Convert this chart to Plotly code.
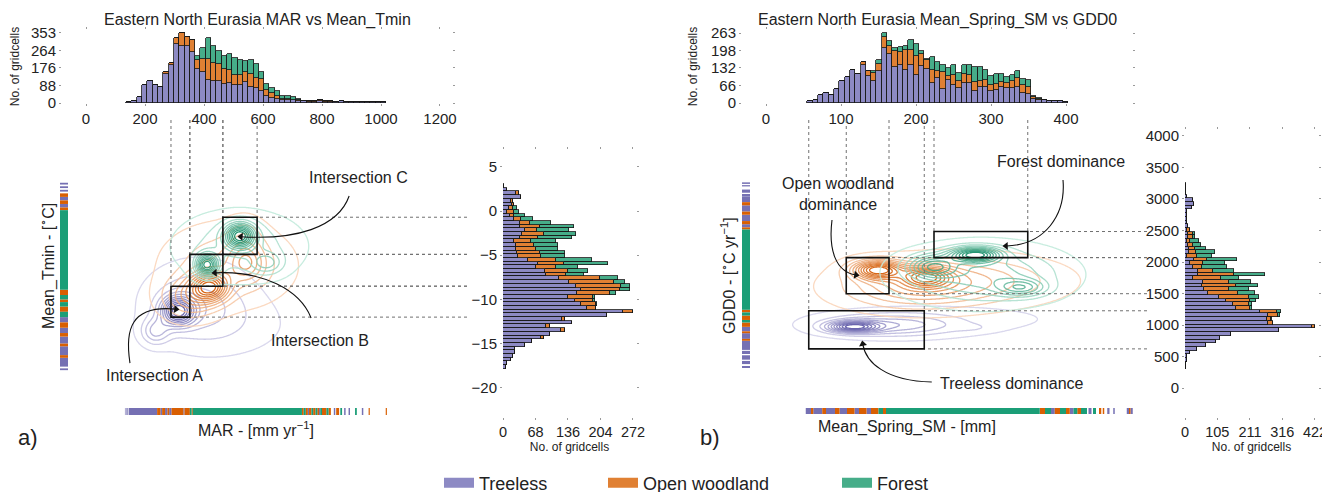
import numpy as np
import plotly.graph_objects as go

W, H = 1330, 492
OFF = 8  # the page body adds an 8 px margin around the figure
FONT = "Liberation Sans, Arial, Helvetica, sans-serif"
INK = "#222222"

CLASSES = ["Treeless", "Open woodland", "Forest"]
BAR_COLORS = ["#8d8ac4", "#e08033", "#46ad89"]
RUG_COLORS = ["#7570b3", "#d95f02", "#1b9e77"]
KDE_LIGHT = ["#d6d4ec", "#fbd6bb", "#c2ebdc"]
KDE_DARK = ["#5a54a5", "#d35800", "#0f8a64"]

# ---------------- Panel a: MAR marginal histogram (bins of 18 mm from 136) ----------------
mar_bin_start = 136
mar_bin_width = 18
mar_treeless = [5, 12, 29, 92, 109, 89, 82, 143, 193, 294, 286, 286, 257, 170, 156, 114, 109, 109, 96, 101,
                89, 89, 106, 79, 76, 62, 34, 25, 22, 17, 17, 13, 12, 10, 7, 7, 12, 7, 7, 5,
                11, 5, 5, 5, 5, 5, 5, 4, 3]
mar_open = [0, 0, 0, 0, 0, 0, 0, 12, 10, 34, 64, 45, 57, 45, 64, 106, 94, 89, 72, 65,
            49, 52, 49, 67, 50, 56, 33, 25, 12, 5, 5, 4, 3, 1, 1, 1, 1, 1, 1, 0,
            1, 0, 0, 0, 0, 0, 0, 1, 0]
mar_forest = [0, 0, 0, 0, 0, 0, 0, 0, 0, 0, 0, 0, 0, 22, 54, 104, 81, 63, 67, 78,
              89, 74, 58, 71, 72, 37, 29, 26, 25, 15, 15, 12, 5, 1, 0, 0, 0, 0, 0, 0,
              0, 0, 0, 0, 0, 0, 0, 0, 0]
mar_ticks = [0, 200, 400, 600, 800, 1000, 1200]
mar_count_ticks = [0, 88, 176, 264, 353]

# ---------------- Panel a: Mean_Tmin marginal histogram (warmest bin first) ----------------
tmin_bin_top = 3.05
tmin_bin_width = 0.418
tmin_treeless = [3, 8, 28, 37, 17, 19, 12, 8, 14, 24, 35, 35, 45, 40, 35, 23, 28, 28, 30, 31,
                 52, 73, 68, 87, 89, 118, 139, 153, 164, 155, 136, 150, 164, 176, 251, 218, 124, 144, 91, 121,
                 98, 80, 61, 45, 26, 26, 21, 17, 9, 7]
tmin_open = [0, 0, 5, 0, 3, 3, 9, 16, 10, 13, 21, 42, 27, 45, 38, 35, 37, 40, 47, 48,
             59, 55, 42, 49, 43, 84, 93, 94, 80, 68, 52, 38, 31, 19, 22, 0, 6, 0, 7, 8,
             0, 5, 0, 0, 0, 0, 0, 0, 0, 0]
tmin_forest = [0, 0, 0, 0, 0, 0, 8, 9, 21, 26, 44, 71, 67, 67, 71, 52, 50, 48, 52, 50,
               75, 92, 47, 42, 37, 38, 24, 19, 21, 13, 5, 4, 2, 0, 0, 0, 0, 0, 0, 0,
               0, 0, 0, 0, 0, 0, 0, 0, 0, 0]
tmin_ticks = [5, 0, -5, -10, -15, -20]
tmin_count_ticks = [0, 68, 136, 204, 272]

# ---------------- Panel b: Mean_Spring_SM marginal histogram ----------------
sm_bin_start = 55
sm_bin_width = 7.1
sm_treeless = [6, 13, 29, 38, 31, 54, 81, 96, 125, 110, 144, 100, 81, 119, 207, 184, 134, 144, 125, 141,
               106, 138, 128, 75, 94, 53, 88, 69, 56, 75, 75, 46, 59, 59, 44, 50, 59, 56, 56, 59,
               38, 35, 16, 13, 11, 6, 6, 9, 5]
sm_open = [0, 0, 0, 0, 0, 0, 0, 0, 0, 0, 9, 21, 32, 29, 41, 29, 60, 46, 75, 59,
           69, 46, 32, 50, 25, 62, 12, 37, 28, 34, 31, 33, 22, 29, 25, 21, 20, 19, 25, 35,
           28, 24, 6, 3, 1, 0, 0, 0, 0]
sm_forest = [0, 0, 0, 0, 0, 0, 0, 0, 0, 0, 0, 0, 6, 15, 14, 21, 13, 19, 15, 38,
             47, 10, 7, 47, 34, 29, 30, 38, 29, 35, 38, 55, 53, 36, 31, 38, 30, 21, 25, 27,
             25, 29, 6, 3, 1, 0, 0, 0, 0]
sm_ticks = [0, 100, 200, 300, 400]
sm_count_ticks = [0, 66, 132, 198, 263]

# ---------------- Panel b: GDD0 marginal histogram (warmest bin first) ----------------
gdd_bin_top = 3248
gdd_bin_width = 59
gdd_treeless = [2, 2, 3, 5, 25, 29, 23, 8, 5, 5, 8, 11, 8, 11, 11, 5, 11, 14, 13, 8,
                29, 16, 25, 43, 43, 27, 57, 54, 62, 76, 111, 133, 157, 166, 243, 270, 267, 270, 411, 306,
                149, 114, 101, 68, 40, 16, 8, 5, 3, 2]
gdd_open = [0, 0, 0, 0, 0, 0, 0, 0, 0, 0, 0, 0, 8, 14, 16, 11, 14, 18, 23, 30,
            41, 43, 29, 49, 117, 90, 87, 112, 82, 97, 98, 78, 52, 45, 55, 33, 11, 15, 11, 0,
            0, 0, 0, 0, 0, 0, 0, 0, 0, 0]
gdd_forest = [0, 0, 0, 0, 0, 0, 0, 0, 0, 0, 0, 0, 0, 7, 5, 31, 26, 36, 61, 49,
              98, 71, 81, 68, 100, 59, 69, 72, 64, 54, 32, 19, 7, 8, 13, 5, 3, 0, 0, 0,
              0, 0, 0, 0, 0, 0, 0, 0, 0, 0]
gdd_ticks = [0, 500, 1000, 1500, 2000, 2500, 3000, 3500, 4000]
gdd_count_ticks = [0, 105, 211, 316, 422]

# ---------------- Rug segments (start, end) per class ----------------
rug_mar = [
    [(132, 134), (136, 138), (140, 143), (145, 241), (252, 258), (268, 276), (282, 290), (330, 334),
     (752, 756), (790, 794), (840, 845), (875, 880), (890, 895), (935, 940)],
    [(241, 252), (258, 268), (276, 282), (290, 330), (334, 352), (358, 362), (732, 738), (745, 752),
     (756, 764), (770, 778), (784, 790), (800, 815), (822, 830), (848, 858), (958, 962), (1016, 1020)],
    [(352, 358), (362, 732), (738, 745), (764, 770), (778, 784), (794, 800), (815, 822), (862, 868),
     (912, 918)],
]
rug_tmin = [
    [(3.0, 3.2), (2.6, 2.8), (2.2, 2.4), (1.2, 1.6), (0.4, 0.8), (-12.6, -12.0), (-13.8, -13.2),
     (-15.0, -14.2), (-16.3, -15.3), (-17.6, -16.6), (-18.0, -17.8)],
    [(1.6, 2.0), (0.8, 1.2), (0.1, 0.4), (-9.5, -8.9), (-10.3, -10.0), (-11.4, -10.8), (-13.2, -12.6),
     (-14.2, -13.8), (-15.3, -15.0), (-16.6, -16.3)],
    [(-8.9, 0.1), (-10.0, -9.5), (-10.8, -10.3), (-12.0, -11.4)],
]
rug_sm = [
    [(53, 60), (63, 75), (80, 92), (98, 108), (118, 124), (134, 140), (380, 385), (405, 410), (430, 434),
     (455, 458), (463, 465), (481, 484), (486, 489)],
    [(60, 63), (75, 80), (92, 98), (108, 118), (124, 134), (140, 150), (156, 160), (365, 372), (385, 392),
     (400, 405), (415, 420), (444, 447), (449, 451), (484, 486)],
    [(150, 156), (160, 365), (372, 380), (392, 400), (410, 415), (420, 428), (436, 440)],
]
rug_gdd = [
    [(3240, 3264), (3200, 3220), (3100, 3150), (3041, 3080), (2950, 3041), (2800, 2900), (2650, 2750),
     (2550, 2600), (900, 971), (780, 870), (605, 750), (540, 590), (450, 520), (380, 430), (318, 350)],
    [(2900, 2950), (2750, 2800), (2600, 2650), (2516, 2550), (1200, 1242), (1080, 1150), (971, 1040),
     (870, 900), (750, 780)],
    [(1242, 2516), (1150, 1200), (1040, 1080)],
]

# ---------------- KDE modes: (x, y, spread_x, spread_y, weight) ----------------
kde_a = [
    [(312, -11.3, 38, 1.1, 1.0), (235, -13.6, 32, 1.0, 0.35), (380, -10.5, 110, 2.8, 0.30),
     (295, 1.5, 28, 0.7, 0.05), (500, -13.0, 140, 2.4, 0.08)],
    [(420, -8.6, 42, 1.1, 1.0), (350, -9.8, 60, 1.5, 0.45), (545, -5.9, 40, 1.4, 0.40),
     (480, -6.2, 130, 2.8, 0.30), (540, -3.0, 40, 1.5, 0.15)],
    [(522, -2.8, 34, 0.95, 1.0), (410, -6.1, 26, 0.85, 0.95), (613, -5.9, 35, 0.8, 0.30),
     (520, -4.0, 130, 2.4, 0.25)],
]
kde_b = [
    [(116, 971, 22, 60, 1.0), (165, 1000, 60, 120, 0.45), (276, 955, 18, 45, 0.07), (260, 1100, 110, 180, 0.08)],
    [(148, 1879, 22, 100, 1.0), (214, 1767, 22, 110, 0.70), (260, 1700, 80, 250, 0.35), (190, 1580, 60, 220, 0.30)],
    [(279, 2118, 22, 80, 1.0), (222, 1927, 22, 120, 0.60), (341, 1592, 22, 90, 0.45), (290, 1800, 65, 280, 0.45)],
]

# ---------------- Dominance boxes [x0, x1, y0, y1] and callouts ----------------
boxes_a = [[288, 352, -12.0, -8.5], [352, 464, -8.5, -4.9], [464, 580, -4.9, -0.7]]
boxes_b = [[57, 211, 621, 1226], [107, 164, 1497, 2070], [224, 349, 2070, 2484]]
callouts_a = [
    ("Intersection A", (231, -18.6), [(149, -17.2), (132, -13.5), (149, -10.6), (305, -11.1)]),
    ("Intersection B", (792, -14.7), [(763, -12.1), (725, -8.9), (597, -6.7), (437, -7.0)]),
    ("Intersection C", (924, 3.77), [(892, 1.7), (854, -1.9), (708, -3.3), (525, -2.9)]),
]
callouts_b = [
    ("Forest dominance", (393, 3592), [(396, 3302), (400, 2746), (372, 2270), (320, 2254)]),
    ("Open woodland<br>dominance", (96, 3079), [(88, 2667), (83, 2190), (93, 1841), (120, 1794)]),
    ("Treeless dominance", (328, 74), [(221, 95), (159, 111), (133, 413), (129, 698)]),
]

# ---------------- layout geometry (screen pixels) ----------------
A_TOPX = [-81.4, 1240.7]
A_MAINX = [-81.4, 1291.5]
A_TOPY = [0, 366]
A_MAINY = [-23.3, 10.3]
A_RIGHTY = [-23.3, 6.9]
A_RIGHTX = [0, 278.3]
B_TOPX = [-32, 488]
B_MAINX = [-32, 508]
B_TOPY = [0, 274.3]
B_MAINY = [-460, 4254]
B_RIGHTY = [-460, 4095]
B_RIGHTX = [0, 431.8]
A_MAIN_PX = (62, 467, 120, 417)
B_MAIN_PX = (742, 1147, 120, 417)
LEGEND_SWATCH_X = [444, 608, 842]
LEGEND_Y = 483


def xd(a, b):
    return [(a - OFF) / W, (b - OFF) / W]


def yd(top, bottom):
    return [1 - (bottom - OFF) / H, 1 - (top - OFF) / H]


fig = go.Figure()


def add_stack(centers, width, series, xa, ya, horizontal):
    for k, vals in enumerate(series):
        kw = dict(y=centers, x=vals, orientation="h") if horizontal else dict(x=centers, y=vals)
        fig.add_trace(go.Bar(
            **kw, width=width, name=CLASSES[k], xaxis=xa, yaxis=ya,
            marker=dict(color=BAR_COLORS[k], line=dict(color="rgba(25,25,25,0.9)", width=0.9)),
            showlegend=False, hoverinfo="skip"))


def add_rug(segments, xa, ya, vertical, width):
    for k, segs in enumerate(segments):
        xs, ys = [], []
        for a, b in segs:
            if vertical:
                xs += [0.5, 0.5, None]
                ys += [a, b, None]
            else:
                xs += [a, b, None]
                ys += [0.5, 0.5, None]
        fig.add_trace(go.Scatter(x=xs, y=ys, mode="lines", xaxis=xa, yaxis=ya,
                                 line=dict(color=RUG_COLORS[k], width=width),
                                 showlegend=False, hoverinfo="skip"))


def add_kde(comps_all, gx, gy, xa, ya):
    X, Y = np.meshgrid(gx, gy)
    for k, comps in enumerate(comps_all):
        Z = np.zeros_like(X)
        for cx, cy, sx, sy, w in comps:
            Z += w * np.exp(-0.5 * (((X - cx) / sx) ** 2 + ((Y - cy) / sy) ** 2))
        Z = Z / Z.max()
        fig.add_trace(go.Contour(
            x=gx, y=gy, z=Z, xaxis=xa, yaxis=ya, zmin=0, zmax=1,
            contours=dict(coloring="lines", start=0.04, end=0.96, size=0.085, showlabels=False),
            colorscale=[[0, KDE_LIGHT[k]], [1, KDE_DARK[k]]],
            line=dict(width=1.3), showscale=False, hoverinfo="skip", opacity=0.9))


# ---- panel a ----
mar_centers = mar_bin_start + mar_bin_width * (np.arange(len(mar_treeless)) + 0.5)
tmin_centers = tmin_bin_top - tmin_bin_width * (np.arange(len(tmin_treeless)) + 0.5)
add_stack(mar_centers, mar_bin_width, [mar_treeless, mar_open, mar_forest], "x", "y", False)
add_kde(kde_a, np.linspace(100, 1000, 240), np.linspace(-21, 6, 220), "x2", "y2")
add_stack(tmin_centers, tmin_bin_width, [tmin_treeless, tmin_open, tmin_forest], "x3", "y3", True)
add_rug(rug_tmin, "x4", "y4", True, 8)
add_rug(rug_mar, "x5", "y5", False, 7)

# ---- panel b ----
sm_centers = sm_bin_start + sm_bin_width * (np.arange(len(sm_treeless)) + 0.5)
gdd_centers = gdd_bin_top - gdd_bin_width * (np.arange(len(gdd_treeless)) + 0.5)
add_stack(sm_centers, sm_bin_width, [sm_treeless, sm_open, sm_forest], "x6", "y6", False)
add_kde(kde_b, np.linspace(20, 460, 240), np.linspace(200, 3200, 220), "x7", "y7")
add_stack(gdd_centers, gdd_bin_width, [gdd_treeless, gdd_open, gdd_forest], "x8", "y8", True)
add_rug(rug_gdd, "x9", "y9", True, 8)
add_rug(rug_sm, "x10", "y10", False, 6)

# ---- legend entries (one legend per class so the spacing follows the reference) ----
legend_names = ["legend", "legend2", "legend3"]
for k, name in enumerate(CLASSES):
    fig.add_trace(go.Scatter(x=[None], y=[None], mode="lines", name=name, xaxis="x", yaxis="y",
                             legend=legend_names[k],
                             line=dict(color=BAR_COLORS[k], width=18), showlegend=True, hoverinfo="skip"))

# ---- boxes, guide lines, callouts ----
shapes = []
annotations = []


def add_boxes(boxes, xa, ya, xmax, ymax):
    for x0, x1, y0, y1 in boxes:
        for xv in (x0, x1):
            shapes.append(dict(type="line", xref=xa, yref=ya, x0=xv, x1=xv, y0=ymax, y1=y1,
                               line=dict(color="#707070", width=1, dash="3px,3px")))
        for yv in (y1, y0):
            shapes.append(dict(type="line", xref=xa, yref=ya, x0=xmax, x1=x1, y0=yv, y1=yv,
                               line=dict(color="#707070", width=1, dash="3px,3px")))
    for x0, x1, y0, y1 in boxes:
        shapes.append(dict(type="rect", xref=xa, yref=ya, x0=x0, x1=x1, y0=y0, y1=y1,
                           line=dict(color="#111111", width=1.6), fillcolor="rgba(0,0,0,0)"))


def add_callouts(callouts, xa, ya, xr, yr, px_box):
    sx = (px_box[1] - px_box[0]) / (xr[1] - xr[0])
    sy = (px_box[3] - px_box[2]) / (yr[1] - yr[0])
    hx, hy, ang = [], [], []
    for text, (tx, ty), pts in callouts:
        (p0, p1, p2, p3) = pts
        shapes.append(dict(type="path", xref=xa, yref=ya,
                           path=f"M {p0[0]},{p0[1]} C {p1[0]},{p1[1]} {p2[0]},{p2[1]} {p3[0]},{p3[1]}",
                           line=dict(color="#111111", width=1.1)))
        dxs = (p3[0] - p2[0]) * sx
        dys = -(p3[1] - p2[1]) * sy
        hx.append(p3[0])
        hy.append(p3[1])
        ang.append(float(np.degrees(np.arctan2(dxs, -dys))))
        annotations.append(dict(x=tx, y=ty, xref=xa, yref=ya, text=text, showarrow=False,
                                font=dict(size=16, color=INK), xanchor="center", yanchor="middle"))
    fig.add_trace(go.Scatter(x=hx, y=hy, mode="markers", xaxis=xa, yaxis=ya, showlegend=False,
                             hoverinfo="skip",
                             marker=dict(symbol="triangle-up", size=7, angle=ang, color="#111111",
                                         line=dict(width=0))))


add_boxes(boxes_a, "x2", "y2", A_MAINX[1], A_MAINY[1])
add_boxes(boxes_b, "x7", "y7", B_MAINX[1], B_MAINY[1])
add_callouts(callouts_a, "x2", "y2", A_MAINX, A_MAINY, A_MAIN_PX)
add_callouts(callouts_b, "x7", "y7", B_MAINX, B_MAINY, B_MAIN_PX)


def paper_text(text, x, y, size, angle=0, anchor="center"):
    annotations.append(dict(x=(x - OFF) / W, y=1 - (y - OFF) / H, xref="paper", yref="paper", text=text,
                            showarrow=False, textangle=angle, font=dict(size=size, color=INK),
                            xanchor=anchor, yanchor="middle"))


annotations.append(dict(x=0.5, y=1 - (20 - OFF) / H, xref="x domain", yref="paper",
                        text="Eastern North Eurasia MAR vs Mean_Tmin", showarrow=False,
                        font=dict(size=16, color=INK), yanchor="middle"))
annotations.append(dict(x=0.5, y=1 - (20 - OFF) / H, xref="x6 domain", yref="paper",
                        text="Eastern North Eurasia Mean_Spring_SM vs GDD0", showarrow=False,
                        font=dict(size=16, color=INK), yanchor="middle"))
paper_text("MAR - [mm yr<sup>−1</sup>]", 256, 429, 16)
paper_text("Mean_Spring_SM - [mm]", 907, 427, 16)
paper_text("Mean_Tmin - [<sup>∘</sup>C]", 47, 266, 16, -90)
paper_text("GDD0 - [<sup>∘</sup>C yr<sup>−1</sup>]", 728, 276, 16, -90)
paper_text("a)", 28, 437, 22)
paper_text("b)", 710, 437, 22)


def hist_axis(domain, rng, anchor, tickvals, size=15, title=None, standoff=None):
    d = dict(domain=domain, range=rng, anchor=anchor, tickvals=tickvals, ticks="outside", ticklen=2,
             tickwidth=1, tickcolor="#9a9a9a", showgrid=False, zeroline=False, showline=False,
             mirror="ticks", tickfont=dict(size=size, color=INK), fixedrange=True, automargin=False)
    if title:
        d["title"] = dict(text=title, font=dict(size=12, color=INK), standoff=standoff)
    return d


def hidden_axis(domain, rng, anchor):
    return dict(domain=domain, range=rng, anchor=anchor, visible=False, showgrid=False, zeroline=False,
                fixedrange=True, automargin=False)


def legend_box(swatch_x):
    return dict(orientation="h", x=(swatch_x - 5 - OFF) / W, xanchor="left",
                y=1 - (LEGEND_Y - OFF) / H, yanchor="middle",
                font=dict(size=18, color=INK), bgcolor="rgba(0,0,0,0)", borderwidth=0)


COUNT_TITLE = "No. of gridcells"

fig.update_layout(
    template="none",
    width=W, height=H, margin=dict(l=0, r=0, t=0, b=0, pad=0, autoexpand=False),
    paper_bgcolor="white", plot_bgcolor="white",
    font=dict(family=FONT, color=INK),
    barmode="stack", bargap=0,
    showlegend=True,
    legend=legend_box(LEGEND_SWATCH_X[0]),
    legend2=legend_box(LEGEND_SWATCH_X[1]),
    legend3=legend_box(LEGEND_SWATCH_X[2]),
    xaxis=hist_axis(xd(62, 452), A_TOPX, "y", mar_ticks),
    yaxis=hist_axis(yd(30, 103), A_TOPY, "x", mar_count_ticks, title=COUNT_TITLE, standoff=10),
    xaxis2=hidden_axis(xd(62, 467), A_MAINX, "y2"),
    yaxis2=hidden_axis(yd(120, 417), A_MAINY, "x2"),
    xaxis3=hist_axis(xd(503, 636), A_RIGHTX, "y3", tmin_count_ticks, 14.5, title=COUNT_TITLE, standoff=3),
    yaxis3=hist_axis(yd(150, 417), A_RIGHTY, "x3", tmin_ticks),
    xaxis4=hidden_axis(xd(59, 69), [0, 1], "y4"),
    yaxis4=hidden_axis(yd(120, 417), A_MAINY, "x4"),
    xaxis5=hidden_axis(xd(62, 467), A_MAINX, "y5"),
    yaxis5=hidden_axis(yd(407, 416), [0, 1], "x5"),
    xaxis6=hist_axis(xd(742, 1132), B_TOPX, "y6", sm_ticks),
    yaxis6=hist_axis(yd(30, 103), B_TOPY, "x6", sm_count_ticks, title=COUNT_TITLE, standoff=10),
    xaxis7=hidden_axis(xd(742, 1147), B_MAINX, "y7"),
    yaxis7=hidden_axis(yd(120, 417), B_MAINY, "x7"),
    xaxis8=hist_axis(xd(1185, 1318), B_RIGHTX, "y8", gdd_count_ticks, 14.5, title=COUNT_TITLE, standoff=3),
    yaxis8=hist_axis(yd(130, 417), B_RIGHTY, "x8", gdd_ticks),
    xaxis9=hidden_axis(xd(741, 751), [0, 1], "y9"),
    yaxis9=hidden_axis(yd(120, 417), B_MAINY, "x9"),
    xaxis10=hidden_axis(xd(742, 1147), B_MAINX, "y10"),
    yaxis10=hidden_axis(yd(407, 415), [0, 1], "x10"),
    shapes=shapes,
    annotations=annotations,
)

fig.write_html("out.html")
